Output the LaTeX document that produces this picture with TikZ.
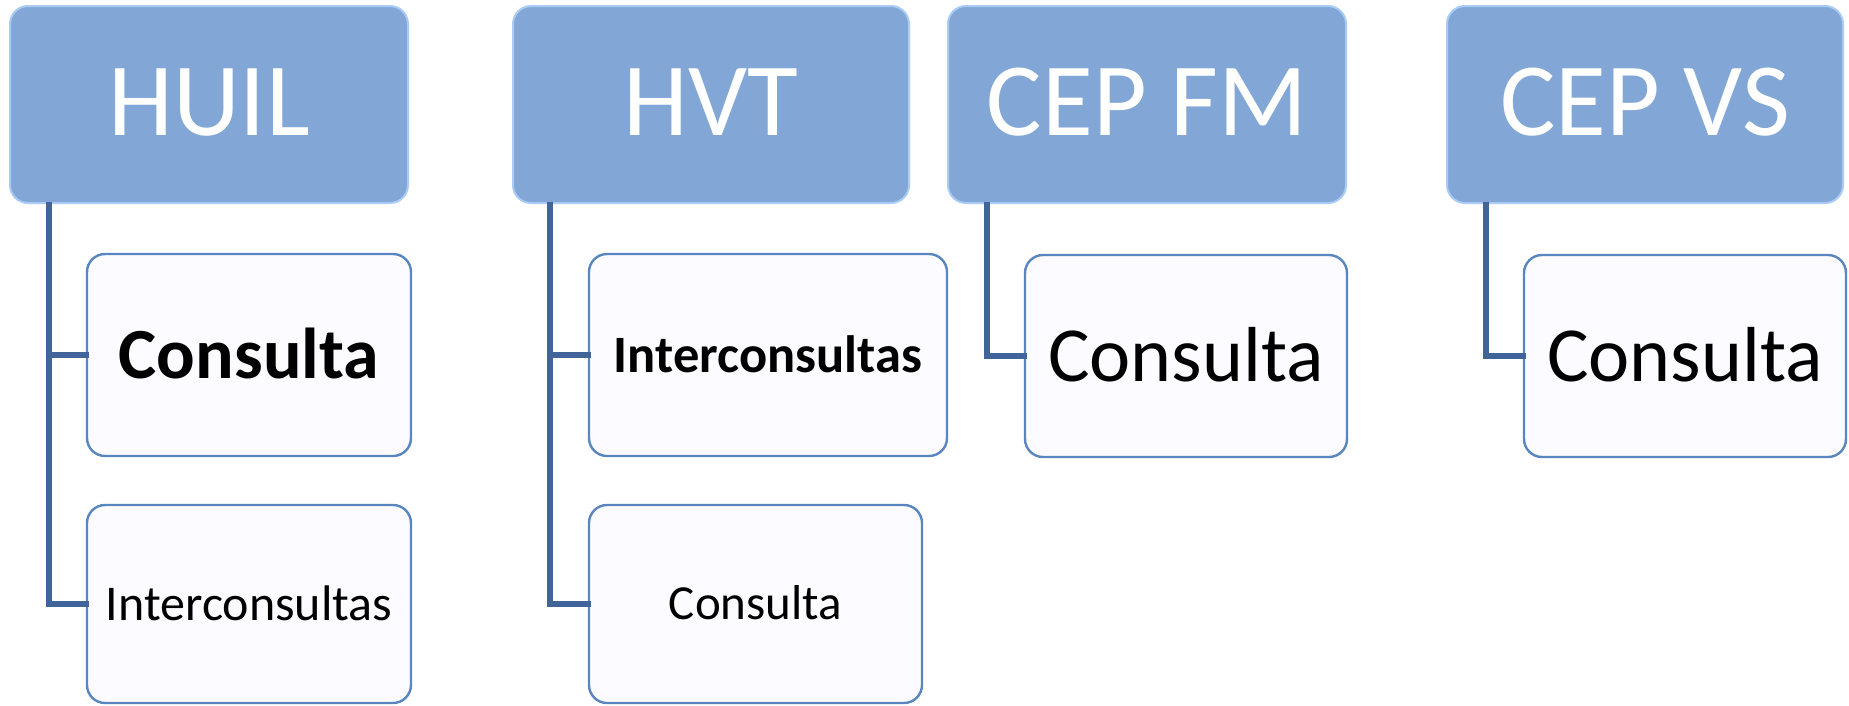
\documentclass[tikz,border=0pt]{standalone}
\usepackage{fontspec}
\setmainfont{Carlito}
\definecolor{hdrfill}{HTML}{82A7D7}
\definecolor{hdredge}{HTML}{A9CBF5}
\definecolor{boxfill}{HTML}{FCFBFF}
\definecolor{boxedge}{HTML}{5A86C0}
\definecolor{conncol}{HTML}{41659A}
\tikzset{
  hdrbox/.style={rectangle, rounded corners=18pt, fill=hdrfill, draw=hdredge, line width=2pt,
    text=white, font=\fontsize{104}{110}\selectfont, minimum height=197pt,
    inner sep=0pt, text height=67pt, text depth=6pt},
  kidbox/.style={rectangle, rounded corners=18pt, fill=boxfill, draw=boxedge, line width=2.4pt,
    text=black, inner sep=0pt, text depth=0pt},
  conn/.style={draw=conncol, line width=5.5pt, line cap=rect},
}
\begin{document}
\begin{tikzpicture}[x=1pt,y=-1pt]
\useasboundingbox (0,0) rectangle (1849,705);
% headers
\node[hdrbox, minimum width=398pt] (huil) at (209,104.5) {HUIL};
\node[hdrbox, minimum width=396pt] (hvt) at (711,104.5) {HVT};
\node[hdrbox, minimum width=398pt] (cepfm) at (1147,104.5) {CEP FM};
\node[hdrbox, minimum width=396pt] (cepvs) at (1645,104.5) {CEP VS};
% children
\node[kidbox, minimum width=324pt, minimum height=202pt, text height=46pt, font=\bfseries\fontsize{72}{80}\selectfont] (huilc1) at (249,355) {Consulta};
\node[kidbox, minimum width=324pt, minimum height=198pt, text height=32pt, font=\fontsize{50}{56}\selectfont] (huilc2) at (249,604) {Interconsultas};
\node[kidbox, minimum width=358pt, minimum height=202pt, text height=34pt, font=\bfseries\fontsize{52.5}{58}\selectfont] (hvtc1) at (768,355) {Interconsultas};
\node[kidbox, minimum width=333pt, minimum height=198pt, text height=31.5pt, font=\fontsize{49}{56}\selectfont] (hvtc2) at (755.5,604) {Consulta};
\node[kidbox, minimum width=322pt, minimum height=202pt, text height=50pt, font=\fontsize{78}{86}\selectfont] (fmc) at (1186,356) {Consulta};
\node[kidbox, minimum width=322pt, minimum height=202pt, text height=50pt, font=\fontsize{78}{86}\selectfont] (vsc) at (1685,356) {Consulta};
% connector start points
\coordinate (huilT) at (49,205);
\coordinate (hvtT) at (550,205);
\coordinate (fmT) at (987,205);
\coordinate (vsT) at (1486,205);
\draw[conn] (huilT) |- (huilc2.west);
\draw[conn] (huilT) |- (huilc1.west);
\draw[conn] (hvtT) |- (hvtc2.west);
\draw[conn] (hvtT) |- (hvtc1.west);
\draw[conn] (fmT) |- (fmc.west);
\draw[conn] (vsT) |- (vsc.west);
\end{tikzpicture}
\end{document}
